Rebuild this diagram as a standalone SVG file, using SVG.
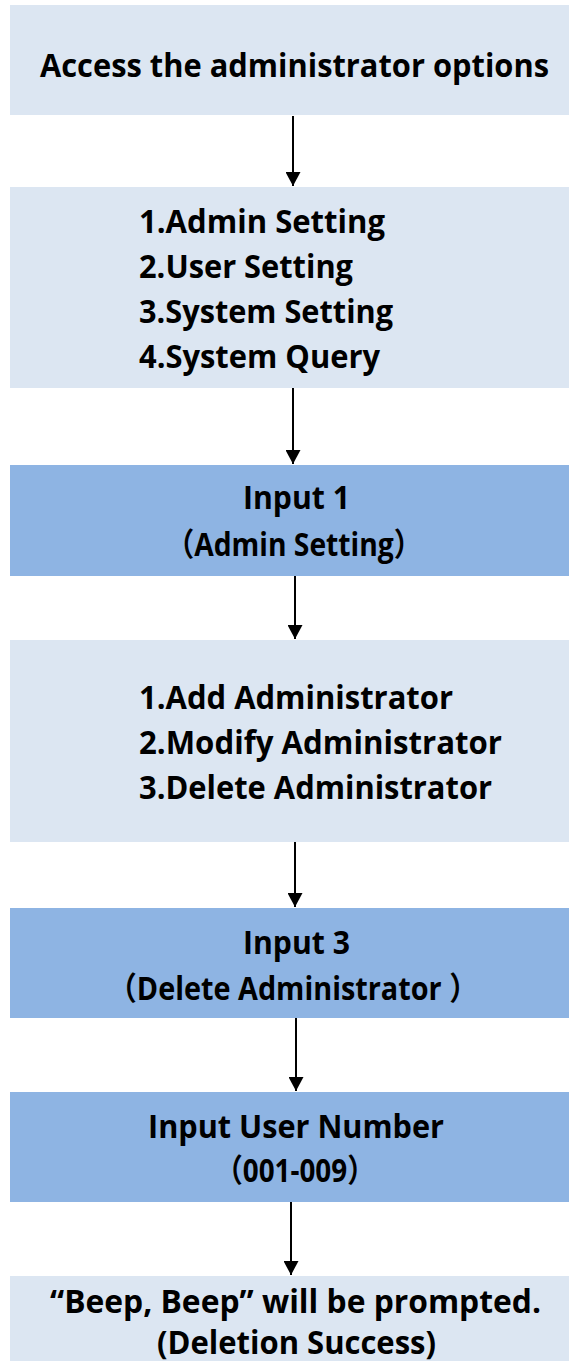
<svg xmlns="http://www.w3.org/2000/svg" width="569" height="1361" viewBox="0 0 569 1361">
<style>
.light{fill:#dce6f2}
.dark{fill:#8eb4e3}
text{font-family:"Open Sans","Noto Sans","Noto Sans CJK SC",sans-serif;font-weight:bold;font-size:32px;fill:#000}
.conn line{stroke:#000;stroke-width:2}
</style>
<defs>
<marker id="ah" viewBox="0 0 14 15" refX="14" refY="7.5" markerWidth="14" markerHeight="15" markerUnits="userSpaceOnUse" orient="auto">
<path d="M0,0 L14,7.5 L0,15 Z" fill="#000"/>
</marker>
</defs>
<rect width="569" height="1361" fill="#fff"/>
<g id="n1">
<rect class="light" x="10" y="5" width="559" height="110"/>
<text x="40" y="77" textLength="509" lengthAdjust="spacingAndGlyphs">Access the administrator options</text>
</g>
<g id="n2">
<rect class="light" x="10" y="187" width="559" height="201"/>
<text x="139" y="233" textLength="246" lengthAdjust="spacingAndGlyphs">1.Admin Setting</text>
<text x="139" y="278" textLength="214" lengthAdjust="spacingAndGlyphs">2.User Setting</text>
<text x="139" y="323" textLength="254" lengthAdjust="spacingAndGlyphs">3.System Setting</text>
<text x="139" y="368" textLength="241" lengthAdjust="spacingAndGlyphs">4.System Query</text>
</g>
<g id="n3">
<rect class="dark" x="10" y="465" width="559" height="111"/>
<text x="243" y="509" textLength="107" lengthAdjust="spacingAndGlyphs">Input 1</text>
<text x="166" y="556" textLength="256" lengthAdjust="spacingAndGlyphs">（Admin Setting）</text>
</g>
<g id="n4">
<rect class="light" x="10" y="640" width="559" height="202"/>
<text x="139" y="709" textLength="314" lengthAdjust="spacingAndGlyphs">1.Add Administrator</text>
<text x="139" y="754" textLength="363" lengthAdjust="spacingAndGlyphs">2.Modify Administrator</text>
<text x="139" y="799" textLength="353" lengthAdjust="spacingAndGlyphs">3.Delete Administrator</text>
</g>
<g id="n5">
<rect class="dark" x="10" y="908" width="559" height="110"/>
<text x="243" y="954" textLength="107" lengthAdjust="spacingAndGlyphs">Input 3</text>
<text x="108" y="1000" textLength="370" lengthAdjust="spacingAndGlyphs">（Delete Administrator ）</text>
</g>
<g id="n6">
<rect class="dark" x="10" y="1092" width="559" height="110"/>
<text x="148" y="1138" textLength="296" lengthAdjust="spacingAndGlyphs">Input User Number</text>
<text x="215" y="1182" textLength="160" lengthAdjust="spacingAndGlyphs">（001-009）</text>
</g>
<g id="n7">
<rect class="light" x="10" y="1276" width="559" height="85"/>
<text x="50" y="1313" textLength="491" lengthAdjust="spacingAndGlyphs">“Beep, Beep” will be prompted.</text>
<text x="157" y="1354" textLength="279" lengthAdjust="spacingAndGlyphs">(Deletion Success)</text>
</g>
<g class="conn" id="connectors">
<line x1="293" y1="116" x2="293" y2="186" marker-end="url(#ah)"/>
<line x1="293" y1="388" x2="293" y2="464" marker-end="url(#ah)"/>
<line x1="295" y1="576" x2="295" y2="639" marker-end="url(#ah)"/>
<line x1="295" y1="842" x2="295" y2="907" marker-end="url(#ah)"/>
<line x1="296" y1="1018" x2="296" y2="1091" marker-end="url(#ah)"/>
<line x1="291" y1="1202" x2="291" y2="1275" marker-end="url(#ah)"/>
</g>
</svg>
